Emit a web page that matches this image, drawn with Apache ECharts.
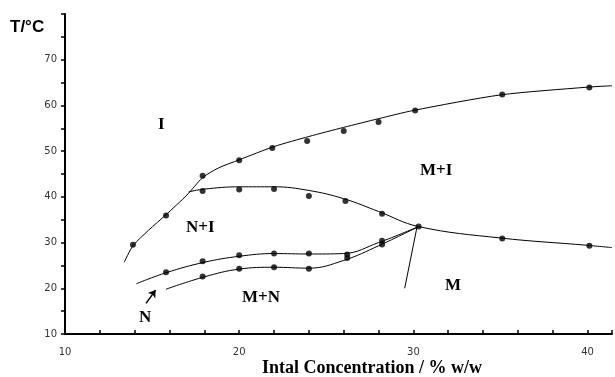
<!DOCTYPE html>
<html>
<head>
<meta charset="utf-8">
<script src="https://cdn.jsdelivr.net/npm/echarts@6/dist/echarts.min.js"></script>
<style>
  html, body { margin: 0; padding: 0; background: #fff; }
  #chart { width: 615px; height: 377px; }
</style>
</head>
<body>
<div id="chart"></div>
<script>
// phase boundaries (concentration % w/w, temperature °C)
const liquidusCurve = [[13.4, 25.7], [13.9, 29.3], [14.8, 32.7], [15.8, 36.1], [17.0, 40.4], [17.9, 44.2], [18.8, 46.3], [20, 48.1], [22, 51.0], [24, 53.2], [26, 55.2], [28, 57.1], [30, 58.9], [35, 62.3], [40, 64.0], [41.4, 64.3]];
const liquidusDots = [[13.9, 29.5], [15.8, 35.9], [17.9, 44.6], [20, 48.0], [21.9, 50.7], [23.9, 52.2], [26, 54.4], [28, 56.4], [30.1, 58.9], [35.1, 62.4], [40.1, 63.9]];

const niUpperCurve = [[17.1, 41.1], [18, 41.7], [20, 42.2], [22, 42.2], [24, 41.4], [26, 39.6], [28, 36.8], [30.3, 33.5], [35, 31.0], [40, 29.4], [41.4, 28.9]];
const niUpperDots = [[17.9, 41.3], [20, 41.6], [22, 41.7], [24, 40.2], [26.1, 39.1], [28.2, 36.3], [30.3, 33.5], [35.1, 30.9], [40.1, 29.3]];

const niLowerCurve = [[14.1, 21.0], [15.8, 23.4], [18, 25.7], [20, 27.0], [22, 27.6], [24, 27.5], [26, 27.6], [28, 30.0], [30.3, 33.5]];
const niLowerDots = [[15.8, 23.5], [17.9, 25.9], [20, 27.2], [22, 27.6], [24, 27.6], [26.2, 27.4], [28.2, 30.4]];

const mnCurve = [[15.8, 19.8], [18, 22.5], [20, 24.2], [22, 24.6], [24, 24.4], [26, 26.1], [28, 29.3], [30.3, 33.5]];
const mnDots = [[17.9, 22.6], [20, 24.3], [22, 24.6], [24, 24.3], [26.2, 26.6], [28.2, 29.6]];

const mBoundary = [[30.2, 33.3], [29.5, 20.0]];
const nArrow = [[14.65, 16.7], [15.2, 19.6]];

const xTickLabels = [10, 20, 30, 40];
const yTickLabels = [10, 20, 30, 40, 50, 60, 70];

const chart = echarts.init(document.getElementById('chart'));

const curve = (data, smooth) => ({
  type: 'line', data: data, smooth: smooth, showSymbol: false, silent: true,
  lineStyle: { color: '#000', width: 1 }, z: 2
});
const dots = (data) => ({
  type: 'scatter', data: data, symbolSize: 6, silent: true,
  itemStyle: { color: '#000' }, z: 3
});

const regionText = (text, left, top) => ({
  type: 'text', left: left, top: top,
  style: { text: text, font: 'bold 17px "Liberation Serif"', fill: '#000' }
});

chart.setOption({
  animation: false,
  grid: { left: 65, right: 2, top: 14, bottom: 43 },
  xAxis: {
    type: 'value', min: 10, max: 41.4, interval: 2,
    axisLine: { lineStyle: { color: '#000', width: 2 } },
    axisTick: { inside: true, length: 4, lineStyle: { color: '#000', width: 1.5 } },
    splitLine: { show: false },
    axisLabel: {
      color: '#333', fontSize: 10, fontFamily: 'DejaVu Sans', margin: 13,
      formatter: (v) => xTickLabels.includes(v) ? String(v) : ''
    }
  },
  yAxis: {
    type: 'value', min: 10, max: 80, interval: 5,
    axisLine: { show: true, lineStyle: { color: '#000', width: 2 } },
    axisTick: { show: true, length: 4, lineStyle: { color: '#000', width: 1.5 } },
    splitLine: { show: false },
    axisLabel: {
      color: '#333', fontSize: 10, fontFamily: 'DejaVu Sans', margin: 8,
      formatter: (v) => yTickLabels.includes(v) ? String(v) : ''
    }
  },
  series: [
    curve(liquidusCurve, 0.25),
    curve(niUpperCurve, 0.4),
    curve(niLowerCurve, 0.4),
    curve(mnCurve, 0.4),
    curve(mBoundary, false),
    dots(liquidusDots),
    dots(niUpperDots),
    dots(niLowerDots),
    dots(mnDots),
    {
      type: 'line', data: [], silent: true,
      markLine: {
        silent: true, symbol: ['none', 'arrow'], symbolSize: 7,
        label: { show: false },
        lineStyle: { color: '#000', width: 1.5, type: 'solid' },
        data: [[{ coord: nArrow[0] }, { coord: nArrow[1] }]]
      }
    }
  ],
  graphic: [
    { type: 'text', left: 10, top: 19,
      style: { text: 'T/°C', font: 'bold 17px "Liberation Sans"', fill: '#000' } },
    regionText('I', 158, 116),
    regionText('M+I', 420, 162),
    regionText('N+I', 186, 219),
    regionText('M+N', 242, 289),
    regionText('M', 445, 277),
    regionText('N', 139, 309),
    { type: 'text', left: 262, top: 359,
      style: { text: 'Intal Concentration / % w/w', font: 'bold 18px "Liberation Serif"', fill: '#000' } }
  ]
});
</script>
</body>
</html>
